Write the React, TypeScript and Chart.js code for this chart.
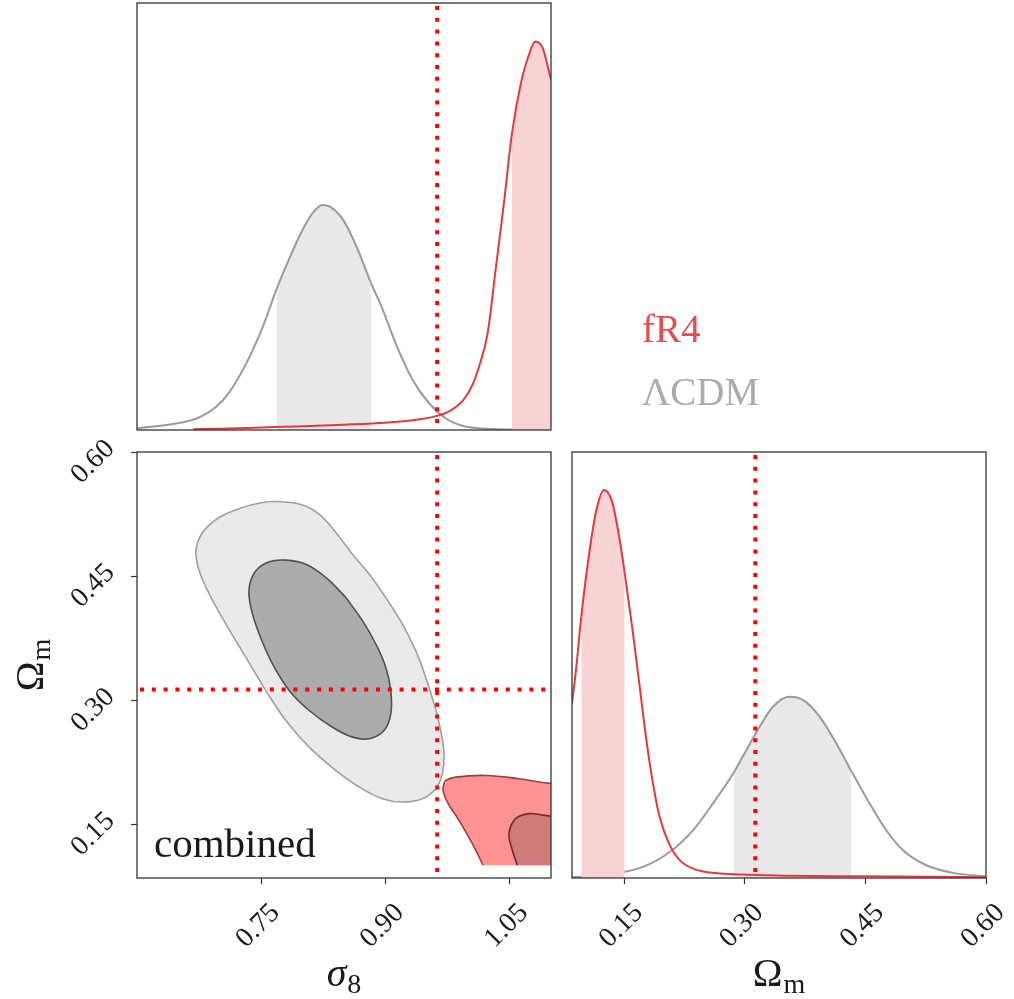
import React, { useEffect, useRef } from "react";
import { Chart, registerables } from "chart.js";

Chart.register(...registerables);

// ---------------- data ----------------
const SIGMA8_MIN = 0.6;
const SIGMA8_MAX = 1.1;
const OMEGAM_MIN = 0.085;
const OMEGAM_MAX = 0.6;
const SIGMA8_TICKS = [0.75, 0.9, 1.05];
const OMEGAM_TICKS = [0.15, 0.3, 0.45, 0.6];
const TRUTH_SIGMA8 = 0.9625;
const TRUTH_OMEGAM = 0.313;

const LEGEND_LABELS = ["fR4", "ΛCDM"];
const PANEL_LABEL = "combined";
const SIGMA8_TITLE = ["σ", "8"];
const OMEGAM_TITLE = ["Ω", "m"];

// 1D marginals (heights as fraction of panel height)
const LCDM_S8_X = [0.6, 0.643, 0.672, 0.696, 0.712, 0.732, 0.752, 0.769, 0.784, 0.8, 0.812, 0.824, 0.833, 0.849, 0.865, 0.8827, 0.897, 0.913, 0.933, 0.953, 0.973, 0.993, 1.013, 1.034, 1.1];
const LCDM_S8_Y = [0.004, 0.014, 0.027, 0.055, 0.09, 0.156, 0.242, 0.332, 0.402, 0.469, 0.508, 0.527, 0.523, 0.492, 0.43, 0.344, 0.281, 0.2, 0.117, 0.062, 0.027, 0.01, 0.004, 0.002, 0.0];
const LCDM_S8_BAND = [0.769, 0.8827];

const FR4_S8_X = [0.668, 0.7, 0.75, 0.8, 0.85, 0.9, 0.93, 0.962, 0.978, 0.994, 1.005, 1.013, 1.0235, 1.0336, 1.0436, 1.0529, 1.0637, 1.0718, 1.081, 1.0899, 1.1];
const FR4_S8_Y = [0.002, 0.003, 0.006, 0.009, 0.0125, 0.017, 0.022, 0.033, 0.045, 0.07, 0.105, 0.148, 0.227, 0.383, 0.539, 0.695, 0.813, 0.87, 0.91, 0.895, 0.82];
const FR4_S8_BAND = [1.0529, 1.1];

const FR4_OM_X = [0.085, 0.0904, 0.0966, 0.107, 0.1153, 0.1248, 0.1348, 0.1443, 0.1505, 0.1609, 0.1692, 0.1775, 0.1857, 0.194, 0.2065, 0.2189, 0.2355, 0.2562, 0.2977, 0.3599, 0.4428, 0.6];
const FR4_OM_Y = [0.41, 0.496, 0.614, 0.77, 0.864, 0.911, 0.884, 0.794, 0.717, 0.574, 0.449, 0.324, 0.222, 0.143, 0.077, 0.042, 0.022, 0.013, 0.008, 0.005, 0.004, 0.002];
const FR4_OM_BAND = [0.0966, 0.1505];

const LCDM_OM_X = [0.085, 0.1318, 0.1733, 0.2065, 0.2355, 0.2604, 0.2861, 0.3018, 0.3184, 0.335, 0.3549, 0.3723, 0.393, 0.4138, 0.4328, 0.4552, 0.476, 0.4967, 0.5257, 0.5589, 0.6];
const LCDM_OM_Y = [0.002, 0.008, 0.026, 0.061, 0.112, 0.175, 0.247, 0.3, 0.355, 0.402, 0.4256, 0.418, 0.379, 0.316, 0.25, 0.175, 0.112, 0.065, 0.03, 0.012, 0.004];
const LCDM_OM_BAND = [0.2861, 0.4328];

// 2D contours (sigma8, Omega_m)
const LCDM_OUTER_S8 = [0.9004, 0.9205, 0.9366, 0.9487, 0.9588, 0.9668, 0.9708, 0.9688, 0.9608, 0.9447, 0.9205, 0.8964, 0.8683, 0.8401, 0.8079, 0.7798, 0.7556, 0.7315, 0.7074, 0.6873, 0.6752, 0.6712, 0.6792, 0.6993, 0.7275, 0.7516, 0.7677, 0.7999, 0.82, 0.8401, 0.8602, 0.8803];
const LCDM_OUTER_OM = [0.4242, 0.392, 0.3599, 0.3277, 0.2955, 0.2633, 0.2352, 0.211, 0.1929, 0.1809, 0.1768, 0.1809, 0.195, 0.2151, 0.2432, 0.2754, 0.3116, 0.3518, 0.392, 0.4283, 0.4564, 0.4805, 0.5027, 0.5208, 0.5328, 0.5389, 0.5401, 0.536, 0.5248, 0.5027, 0.4765, 0.4524];

const LCDM_INNER_S8 = [0.8522, 0.8723, 0.8884, 0.9004, 0.9065, 0.9065, 0.8984, 0.8803, 0.8602, 0.8361, 0.8079, 0.7838, 0.7637, 0.7476, 0.7375, 0.7355, 0.7436, 0.7597, 0.7798, 0.8039, 0.828];
const LCDM_INNER_OM = [0.4242, 0.3961, 0.3679, 0.3398, 0.3116, 0.2834, 0.2633, 0.2533, 0.2553, 0.2673, 0.2875, 0.3116, 0.3438, 0.38, 0.4122, 0.4363, 0.4564, 0.4673, 0.4693, 0.4644, 0.4484];

const FR4_OUTER_S8 = [1.018, 1.005, 0.9889, 0.9748, 0.9696, 0.9708, 0.9728, 0.9849, 1.0211, 1.0613, 1.09, 1.12];
const FR4_OUTER_OM = [0.1004, 0.1266, 0.1547, 0.1768, 0.1909, 0.199, 0.203, 0.207, 0.209, 0.205, 0.2005, 0.197];
const FR4_INNER_S8 = [1.0593, 1.0533, 1.0493, 1.0573, 1.0734, 1.09, 1.12];
const FR4_INNER_OM = [0.1004, 0.1185, 0.1387, 0.1567, 0.1628, 0.161, 0.157];
const FR4_CUT_OM = 0.1004;
const FR4_CUT_S8 = 1.12;

// ---------------- styles ----------------
const W = 1014;
const H = 999;
const FONT = "'Liberation Serif', 'DejaVu Serif', serif";
const FRAME = "#333333";
const TEXT = "#1a1a1a";
const GREY_LINE = "#9a9a9a";
const GREY_BAND = "#e9e9e9";
const RED_LINE = "#e5383b";
const RED_BAND = "#f7d3d4";
const LCDM_OUTER_FILL = "#eaeaea";
const LCDM_OUTER_EDGE = "#9e9e9e";
const LCDM_INNER_FILL = "#acacac";
const LCDM_INNER_EDGE = "#505050";
const FR4_OUTER_FILL = "#ff9393";
const FR4_OUTER_EDGE = "#a33a3a";
const FR4_INNER_FILL = "#cd7c7a";
const FR4_INNER_EDGE = "#7d2424";
const TRUTH_COLOR = "#ff0000";
const CLEAR = "rgba(0,0,0,0)";

type P = { x: number; y: number };
const pts = (xs: number[], ys: number[]): P[] => xs.map((x, i) => ({ x, y: ys[i] }));

function curveDataset(xs: number[], ys: number[], line: string, band: string, range: number[]) {
  return {
    data: pts(xs, ys),
    showLine: true,
    borderColor: line,
    borderWidth: 2,
    pointRadius: 0,
    pointHoverRadius: 0,
    cubicInterpolationMode: "monotone",
    fill: "origin",
    backgroundColor: band,
    clip: 0,
    segment: {
      backgroundColor: (c: any) =>
        xs[c.p0DataIndex] >= range[0] - 1e-9 && xs[c.p1DataIndex] <= range[1] + 1e-9 ? band : CLEAR,
    },
  };
}

function closedShape(xs: number[], ys: number[], fillColor: string, edge: string, width: number) {
  const data = pts(xs, ys);
  data.push({ ...data[0] });
  return {
    data,
    showLine: true,
    fill: "shape",
    backgroundColor: fillColor,
    borderColor: edge,
    borderWidth: width,
    tension: 0.4,
    pointRadius: 0,
    pointHoverRadius: 0,
    clip: 0,
  };
}

function cutShapeFill(xs: number[], ys: number[], fillColor: string) {
  const data = pts(xs, ys);
  data.push({ x: FR4_CUT_S8, y: FR4_CUT_OM });
  data.push({ x: FR4_CUT_S8 - 0.0005, y: FR4_CUT_OM });
  data.push({ x: xs[0] + 0.0005, y: FR4_CUT_OM });
  data.push({ x: xs[0], y: ys[0] });
  return {
    data,
    showLine: true,
    fill: "shape",
    backgroundColor: fillColor,
    borderColor: CLEAR,
    borderWidth: 0,
    tension: 0.4,
    pointRadius: 0,
    pointHoverRadius: 0,
    clip: 0,
  };
}

function openEdge(xs: number[], ys: number[], edge: string, width: number) {
  return {
    data: pts(xs, ys),
    showLine: true,
    fill: false,
    borderColor: edge,
    borderWidth: width,
    tension: 0.4,
    pointRadius: 0,
    pointHoverRadius: 0,
    clip: 0,
  };
}

function dotted(data: P[]) {
  return {
    data,
    showLine: true,
    fill: false,
    borderColor: TRUTH_COLOR,
    borderWidth: 4,
    borderDash: [4, 7.8],
    borderDashOffset: -3,
    borderCapStyle: "butt",
    pointRadius: 0,
    pointHoverRadius: 0,
    clip: 0,
  };
}

function axis(min: number, max: number, ticks: number[] | null, position: string) {
  return {
    type: "linear",
    min,
    max,
    position,
    display: ticks !== null,
    afterBuildTicks: (s: any) => {
      if (ticks) s.ticks = ticks.map((v) => ({ value: v }));
    },
    afterFit: (s: any) => {
      if (position === "bottom") s.height = 0;
      else s.width = 0;
    },
    grid: { display: true, drawOnChartArea: false, drawTicks: true, tickLength: 6, tickColor: FRAME, tickWidth: 1.2 },
    border: { display: false },
    ticks: { display: false },
  };
}

type Decor = {
  xLabels?: boolean;
  yLabels?: boolean;
  xTitle?: string[];
  xTitleItalic?: boolean;
  yTitle?: string[];
  texts?: { text: string; x: number; y: number; color: string; size: number }[];
};

function drawTitle(ctx: CanvasRenderingContext2D, parts: string[], italic: boolean, cx: number, baseline: number) {
  const mainFont = `${italic ? "italic " : ""}40px ${FONT}`;
  const subFont = `28px ${FONT}`;
  ctx.font = mainFont;
  const w1 = ctx.measureText(parts[0]).width;
  ctx.font = subFont;
  const w2 = ctx.measureText(parts[1]).width;
  const x0 = cx - (w1 + w2 + 1) / 2;
  ctx.textAlign = "left";
  ctx.textBaseline = "alphabetic";
  ctx.fillStyle = TEXT;
  ctx.font = mainFont;
  ctx.fillText(parts[0], x0, baseline);
  ctx.font = subFont;
  ctx.fillText(parts[1], x0 + w1 + 1, baseline + 7);
}

function decorPlugin(d: Decor) {
  return {
    id: "cornerDecor",
    afterDraw(chart: any) {
      const ctx: CanvasRenderingContext2D = chart.ctx;
      const a = chart.chartArea;
      ctx.save();
      ctx.strokeStyle = FRAME;
      ctx.lineWidth = 1.3;
      ctx.strokeRect(a.left, a.top, a.right - a.left, a.bottom - a.top);

      ctx.fillStyle = TEXT;
      ctx.font = `28px ${FONT}`;
      ctx.textAlign = "center";
      ctx.textBaseline = "middle";
      if (d.xLabels) {
        const xs = chart.scales.x;
        for (const t of xs.ticks) {
          const px = xs.getPixelForValue(t.value);
          ctx.save();
          ctx.translate(px - 3, a.bottom + 48);
          ctx.rotate(-Math.PI / 4);
          ctx.fillText(t.value.toFixed(2), 0, 0);
          ctx.restore();
        }
      }
      if (d.yLabels) {
        const ys = chart.scales.y;
        for (const t of ys.ticks) {
          const py = ys.getPixelForValue(t.value);
          ctx.save();
          ctx.translate(a.left - 44, py + 10);
          ctx.rotate(-Math.PI / 4);
          ctx.fillText(t.value.toFixed(2), 0, 0);
          ctx.restore();
        }
      }
      if (d.xTitle) {
        drawTitle(ctx, d.xTitle, !!d.xTitleItalic, (a.left + a.right) / 2, a.bottom + 108);
      }
      if (d.yTitle) {
        ctx.save();
        ctx.translate(43, (a.top + a.bottom) / 2);
        ctx.rotate(-Math.PI / 2);
        drawTitle(ctx, d.yTitle, false, 0, 0);
        ctx.restore();
      }
      for (const t of d.texts || []) {
        ctx.font = `${t.size}px ${FONT}`;
        ctx.fillStyle = t.color;
        ctx.textAlign = "left";
        ctx.textBaseline = "alphabetic";
        ctx.fillText(t.text, t.x, t.y);
      }
      ctx.restore();
    },
  };
}

function withOrder(list: any[]) {
  // list is bottom -> top; larger order is drawn first
  return list.map((ds, i) => ({ ...ds, order: list.length - i }));
}

function makeConfig(padding: any, scales: any, datasets: any[], decor: Decor) {
  return {
    type: "scatter",
    data: { datasets: withOrder(datasets) },
    options: {
      animation: false,
      responsive: false,
      maintainAspectRatio: false,
      devicePixelRatio: 1,
      events: [],
      layout: { padding, autoPadding: false },
      plugins: { legend: { display: false }, tooltip: { enabled: false } },
      scales,
    },
    plugins: [decorPlugin(decor)],
  } as any;
}

function configSigma8() {
  return makeConfig(
    { left: 137, top: 3, right: W - 551, bottom: H - 430 },
    { x: axis(SIGMA8_MIN, SIGMA8_MAX, null, "bottom"), y: axis(0, 1, null, "left") },
    [
      curveDataset(LCDM_S8_X, LCDM_S8_Y, GREY_LINE, GREY_BAND, LCDM_S8_BAND),
      curveDataset(FR4_S8_X, FR4_S8_Y, RED_LINE, RED_BAND, FR4_S8_BAND),
      dotted([
        { x: TRUTH_SIGMA8, y: 1 },
        { x: TRUTH_SIGMA8, y: 0 },
      ]),
    ],
    {
      texts: [
        { text: LEGEND_LABELS[0], x: 642, y: 342, color: "#e84b4b", size: 39 },
        { text: LEGEND_LABELS[1], x: 642, y: 405, color: "#ababab", size: 39 },
      ],
    }
  );
}

function config2D() {
  return makeConfig(
    { left: 137, top: 452, right: W - 551, bottom: H - 878 },
    {
      x: axis(SIGMA8_MIN, SIGMA8_MAX, SIGMA8_TICKS, "bottom"),
      y: axis(OMEGAM_MIN, OMEGAM_MAX, OMEGAM_TICKS, "left"),
    },
    [
      closedShape(LCDM_OUTER_S8, LCDM_OUTER_OM, LCDM_OUTER_FILL, LCDM_OUTER_EDGE, 1.6),
      closedShape(LCDM_INNER_S8, LCDM_INNER_OM, LCDM_INNER_FILL, LCDM_INNER_EDGE, 1.6),
      cutShapeFill(FR4_OUTER_S8, FR4_OUTER_OM, FR4_OUTER_FILL),
      openEdge(FR4_OUTER_S8, FR4_OUTER_OM, FR4_OUTER_EDGE, 1.6),
      cutShapeFill(FR4_INNER_S8, FR4_INNER_OM, FR4_INNER_FILL),
      openEdge(FR4_INNER_S8, FR4_INNER_OM, FR4_INNER_EDGE, 1.6),
      dotted([
        { x: TRUTH_SIGMA8, y: OMEGAM_MAX },
        { x: TRUTH_SIGMA8, y: OMEGAM_MIN },
      ]),
      dotted([
        { x: SIGMA8_MIN, y: TRUTH_OMEGAM },
        { x: SIGMA8_MAX, y: TRUTH_OMEGAM },
      ]),
    ],
    {
      xLabels: true,
      yLabels: true,
      xTitle: SIGMA8_TITLE,
      xTitleItalic: true,
      yTitle: OMEGAM_TITLE,
      texts: [{ text: PANEL_LABEL, x: 154, y: 857, color: TEXT, size: 41 }],
    }
  );
}

function configOmegam() {
  return makeConfig(
    { left: 572, top: 452, right: W - 986, bottom: H - 878 },
    { x: axis(OMEGAM_MIN, OMEGAM_MAX, OMEGAM_TICKS, "bottom"), y: axis(0, 1, null, "left") },
    [
      curveDataset(LCDM_OM_X, LCDM_OM_Y, GREY_LINE, GREY_BAND, LCDM_OM_BAND),
      curveDataset(FR4_OM_X, FR4_OM_Y, RED_LINE, RED_BAND, FR4_OM_BAND),
      dotted([
        { x: TRUTH_OMEGAM, y: 1 },
        { x: TRUTH_OMEGAM, y: 0 },
      ]),
    ],
    { xLabels: true, xTitle: OMEGAM_TITLE }
  );
}

export default function App() {
  const r1 = useRef<HTMLCanvasElement>(null);
  const r2 = useRef<HTMLCanvasElement>(null);
  const r3 = useRef<HTMLCanvasElement>(null);

  useEffect(() => {
    const charts = [
      new Chart(r1.current as HTMLCanvasElement, configSigma8()),
      new Chart(r2.current as HTMLCanvasElement, config2D()),
      new Chart(r3.current as HTMLCanvasElement, configOmegam()),
    ];
    return () => charts.forEach((c) => c.destroy());
  }, []);

  const style: React.CSSProperties = { position: "absolute", left: 0, top: 0, width: W, height: H };
  return (
    <div style={{ position: "absolute", left: 0, top: 0, width: W, height: H, background: "#ffffff", overflow: "hidden" }}>
      <canvas ref={r1} width={W} height={H} style={style} />
      <canvas ref={r2} width={W} height={H} style={style} />
      <canvas ref={r3} width={W} height={H} style={style} />
    </div>
  );
}
